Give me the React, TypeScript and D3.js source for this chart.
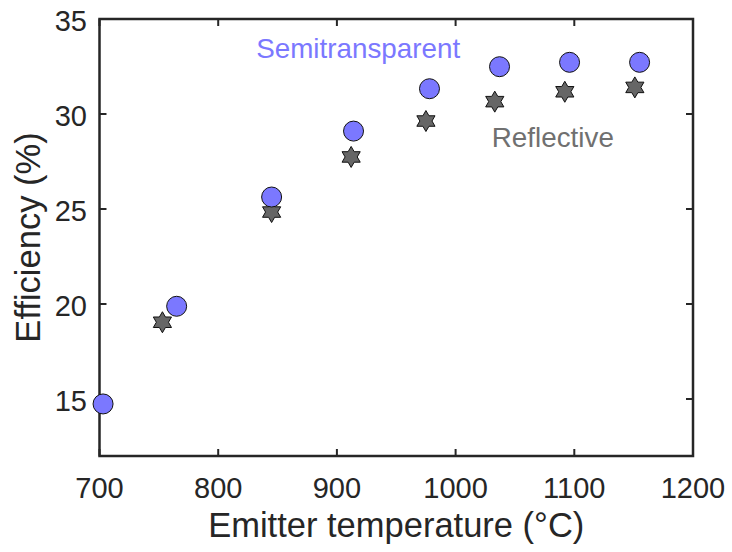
import React, { useRef, useEffect } from 'react';
import * as d3 from 'd3';

// Semitransparent cells (circles)
const semiTemps = [703, 765, 845, 914, 978, 1037, 1096, 1155];
const semiEff = [14.74, 19.88, 25.63, 29.1, 31.33, 32.49, 32.72, 32.72];

// Reflective cells (hexagrams)
const reflTemps = [753, 845, 912, 975, 1033, 1092, 1151];
const reflEff = [19.04, 24.84, 27.74, 29.63, 30.65, 31.17, 31.4];

const xTicks = [700, 800, 900, 1000, 1100, 1200];
const yTicks = [15, 20, 25, 30, 35];

const W = 732;
const H = 552;

const hexagram = (r: number) => {
  const pts: [number, number][] = [];
  for (let i = 0; i < 12; i++) {
    const a = -Math.PI / 2 + (i * Math.PI) / 6;
    const rr = i % 2 === 0 ? r : r / Math.sqrt(3);
    pts.push([rr * Math.cos(a), rr * Math.sin(a)]);
  }
  return 'M' + pts.map(p => p.join(',')).join('L') + 'Z';
};

const App = () => {
  const svgRef = useRef<SVGSVGElement>(null);

  useEffect(() => {
    const svg = d3.select(svgRef.current);
    svg.selectAll('*').remove();

    const font = 'Liberation Sans, Arial, Helvetica, sans-serif';
    const axisColor = '#262626';

    const x = d3.scaleLinear().domain([700, 1200]).range([99.5, 693]);
    const y = d3.scaleLinear().domain([12, 35]).range([456, 19]);

    const [x0, x1] = x.range();
    const [y0, y1] = y.range();

    // box
    svg.append('rect')
      .attr('x', x0).attr('y', y1)
      .attr('width', x1 - x0).attr('height', y0 - y1)
      .attr('fill', 'none')
      .attr('stroke', axisColor)
      .attr('stroke-width', 2.5);

    const tickLen = 7;

    // x ticks (bottom and top, inward)
    xTicks.forEach(t => {
      const px = x(t);
      svg.append('line').attr('x1', px).attr('x2', px).attr('y1', y0).attr('y2', y0 - tickLen)
        .attr('stroke', axisColor).attr('stroke-width', 2);
      svg.append('line').attr('x1', px).attr('x2', px).attr('y1', y1).attr('y2', y1 + tickLen)
        .attr('stroke', axisColor).attr('stroke-width', 2);
      svg.append('text')
        .attr('x', px).attr('y', 498)
        .attr('text-anchor', 'middle')
        .attr('font-family', font).attr('font-size', 29)
        .attr('fill', axisColor)
        .text(t);
    });

    // y ticks (left and right, inward)
    yTicks.forEach(t => {
      const py = y(t);
      svg.append('line').attr('x1', x0).attr('x2', x0 + tickLen).attr('y1', py).attr('y2', py)
        .attr('stroke', axisColor).attr('stroke-width', 2);
      svg.append('line').attr('x1', x1).attr('x2', x1 - tickLen).attr('y1', py).attr('y2', py)
        .attr('stroke', axisColor).attr('stroke-width', 2);
      svg.append('text')
        .attr('x', 87).attr('y', py + 12)
        .attr('text-anchor', 'end')
        .attr('font-family', font).attr('font-size', 29)
        .attr('fill', axisColor)
        .text(t);
    });

    // axis labels
    svg.append('text')
      .attr('x', (x0 + x1) / 2).attr('y', 537)
      .attr('text-anchor', 'middle')
      .attr('font-family', font).attr('font-size', 34.5)
      .attr('fill', axisColor)
      .text('Emitter temperature (°C)');

    svg.append('text')
      .attr('transform', `translate(40, ${(y0 + y1) / 2}) rotate(-90)`)
      .attr('text-anchor', 'middle')
      .attr('font-family', font).attr('font-size', 34.5)
      .attr('fill', axisColor)
      .text('Efficiency (%)');

    // reflective hexagrams
    svg.selectAll('path.refl')
      .data(reflTemps.map((t, i) => [t, reflEff[i]]))
      .enter()
      .append('path')
      .attr('class', 'refl')
      .attr('d', hexagram(10.5))
      .attr('transform', d => `translate(${x(d[0])},${y(d[1])})`)
      .attr('fill', '#666666')
      .attr('stroke', '#111111')
      .attr('stroke-width', 1);

    // semitransparent circles
    svg.selectAll('circle.semi')
      .data(semiTemps.map((t, i) => [t, semiEff[i]]))
      .enter()
      .append('circle')
      .attr('class', 'semi')
      .attr('cx', d => x(d[0]))
      .attr('cy', d => y(d[1]))
      .attr('r', 10)
      .attr('fill', '#7b78ff')
      .attr('stroke', '#111111')
      .attr('stroke-width', 1);

    // annotations
    svg.append('text')
      .attr('x', x(832)).attr('y', y(32.95))
      .attr('font-family', font).attr('font-size', 27.8)
      .attr('fill', '#7b78ff')
      .text('Semitransparent');

    svg.append('text')
      .attr('x', x(1030.5)).attr('y', y(28.26))
      .attr('font-family', font).attr('font-size', 27.8)
      .attr('fill', '#707070')
      .text('Reflective');
  }, []);

  return (
    <svg ref={svgRef} width={W} height={H}
      style={{ position: 'absolute', left: 0, top: 0, background: '#fff' }} />
  );
};

export default App;
